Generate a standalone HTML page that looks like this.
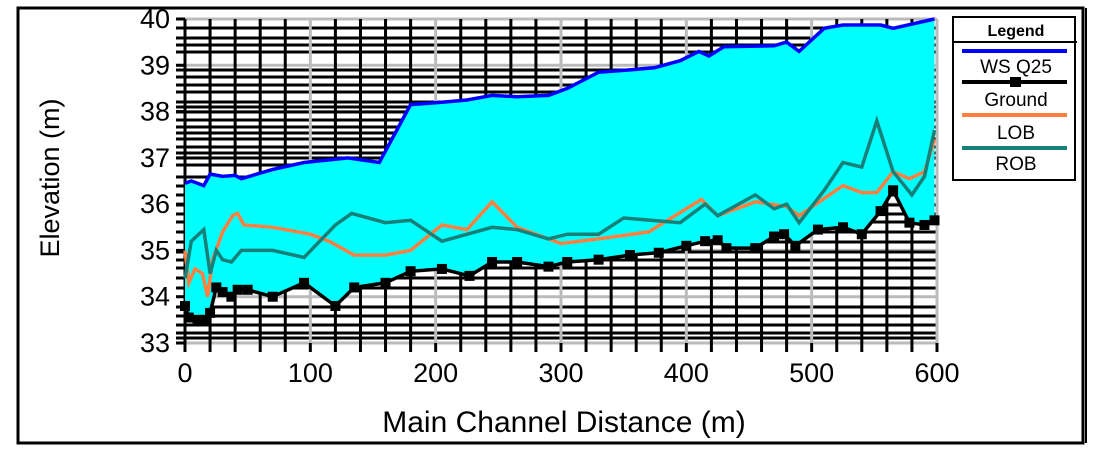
<!DOCTYPE html>
<html><head><meta charset="utf-8"><style>
body{margin:0;background:#fff;}
svg{display:block;font-family:"Liberation Sans",sans-serif;}
</style></head><body>
<svg id="s" width="1095" height="465" xmlns="http://www.w3.org/2000/svg">
<rect x="18" y="8" width="1065" height="435" fill="none" stroke="#000" stroke-width="3"/>
<line x1="1086" y1="8" x2="1086" y2="443" stroke="#000" stroke-width="2"/>
<g id="grid"></g>
<g id="data"></g>
<g font-size="27" fill="#000" text-anchor="end" id="yl"></g>
<g font-size="27" fill="#000" text-anchor="middle" id="xl"></g>
<text x="0" y="0" font-size="27" text-anchor="middle" transform="translate(59,178) rotate(-90)">Elevation (m)</text>
<text x="564" y="432" font-size="30" text-anchor="middle">Main Channel Distance (m)</text>
<rect x="953" y="17" width="122" height="163" fill="#fff" stroke="#000" stroke-width="2"/>
<line x1="953" y1="42" x2="1077" y2="42" stroke="#000" stroke-width="2"/>
<text x="1016" y="36" font-size="16" font-weight="bold" text-anchor="middle">Legend</text>
<line x1="962" y1="51" x2="1067" y2="51" stroke="#0000ff" stroke-width="4"/>
<text x="1016" y="73" font-size="19" text-anchor="middle">WS  Q25</text>
<line x1="962" y1="82" x2="1067" y2="82" stroke="#000" stroke-width="4"/>
<rect x="1010" y="77" width="11" height="10" fill="#000"/>
<text x="1016" y="106" font-size="19" text-anchor="middle">Ground</text>
<line x1="962" y1="115" x2="1067" y2="115" stroke="#ff7f40" stroke-width="4"/>
<text x="1016" y="139" font-size="19" text-anchor="middle">LOB</text>
<line x1="962" y1="148" x2="1067" y2="148" stroke="#178078" stroke-width="4"/>
<text x="1016" y="170" font-size="19" text-anchor="middle">ROB</text>
</svg>
<script>
var X=function(d){return 185+d*752/600;},Y=function(e){return 343-(e-33)*324/7;};
var g='';
for(var e=33;e<=40;e++){var y=Y(e);g+='<line x1="176" y1="'+y+'" x2="937" y2="'+y+'" stroke="#bbb" stroke-width="3"/><line x1="176" y1="'+y+'" x2="185" y2="'+y+'" stroke="#000" stroke-width="3"/>';}
var hl=[28,38,45,52,70,77,85,92,102,107,112,120,127,133,139,147,153,158,165,177,186,195,205,214,222,232,242,252,260,268,278,288,307,316,325,333,338];
hl.forEach(function(y){g+='<line x1="176" y1="'+y+'" x2="937" y2="'+y+'" stroke="#000" stroke-width="3"/>';});
for(var d=0;d<=600;d+=20){var x=X(d);var gray=d%100==0;
 g+='<line x1="'+x+'" y1="19" x2="'+x+'" y2="343" stroke="'+(gray?'#bbb':'#000')+'" stroke-width="3"/>';
 g+='<line x1="'+x+'" y1="343" x2="'+x+'" y2="352" stroke="#000" stroke-width="3"/>';}
g+='<line x1="185" y1="19" x2="185" y2="343" stroke="#000" stroke-width="3"/>';
g+='<line x1="937" y1="19" x2="937" y2="343" stroke="#bbb" stroke-width="3"/>';
document.getElementById('grid').innerHTML=g;
var ws=[[0,36.45],[5,36.5],[15,36.4],[20,36.65],[30,36.6],[40,36.62],[45,36.55],[70,36.75],[95,36.9],[130,37.0],[155,36.9],[180,38.15],[205,38.2],[225,38.25],[245,38.35],[265,38.32],[290,38.35],[305,38.5],[330,38.85],[355,38.9],[375,38.95],[395,39.1],[410,39.3],[418,39.2],[430,39.4],[470,39.42],[480,39.5],[490,39.3],[510,39.8],[525,39.87],[555,39.87],[565,39.8],[598,40.0]];
var gr=[[0,33.8],[3,33.55],[10,33.5],[15,33.5],[20,33.65],[25,34.2],[30,34.1],[37,34.0],[42,34.15],[50,34.15],[70,34.0],[95,34.3],[120,33.8],[135,34.2],[160,34.3],[180,34.55],[205,34.6],[227,34.45],[245,34.75],[265,34.75],[290,34.65],[305,34.75],[330,34.8],[355,34.9],[378,34.95],[400,35.1],[415,35.2],[425,35.22],[432,35.05],[455,35.05],[470,35.3],[478,35.35],[487,35.1],[505,35.45],[525,35.5],[540,35.35],[555,35.85],[565,36.3],[578,35.6],[590,35.55],[598,35.65]];
var lob=[[0,35.0],[3,34.3],[8,34.6],[14,34.5],[18,34.0],[22,34.8],[30,35.4],[38,35.75],[42,35.8],[47,35.55],[70,35.5],[100,35.35],[115,35.2],[135,34.9],[160,34.9],[180,35.0],[205,35.55],[225,35.45],[245,36.05],[265,35.5],[300,35.15],[330,35.25],[370,35.4],[400,35.9],[412,36.1],[425,35.75],[455,36.05],[480,35.95],[490,35.75],[525,36.4],[540,36.25],[552,36.25],[565,36.7],[578,36.55],[590,36.7],[598,37.4]];
var rob=[[0,34.4],[5,35.2],[15,35.45],[20,34.5],[25,35.0],[30,34.8],[37,34.75],[45,35.0],[70,35.0],[95,34.85],[120,35.55],[133,35.8],[160,35.6],[180,35.65],[205,35.2],[245,35.5],[265,35.45],[290,35.25],[305,35.35],[330,35.35],[350,35.7],[395,35.6],[415,36.0],[425,35.75],[455,36.2],[470,35.9],[480,36.0],[490,35.6],[510,36.3],[525,36.9],[540,36.8],[552,37.8],[565,36.7],[580,36.2],[590,36.6],[598,37.6]];
function pts(a){return a.map(function(p){return X(p[0]).toFixed(1)+','+Y(p[1]).toFixed(1);}).join(' ');}
var d='';
d+='<polygon points="'+pts(ws)+' '+pts(gr.slice().reverse())+'" fill="#00ffff"/>';
d+='<polyline points="'+pts(lob)+'" fill="none" stroke="#ff7f40" stroke-width="3.5"/>';
d+='<polyline points="'+pts(rob)+'" fill="none" stroke="#178078" stroke-width="3.5"/>';
d+='<polyline points="'+pts(ws)+'" fill="none" stroke="#0000ff" stroke-width="3.5"/>';
d+='<polyline points="'+pts(gr)+'" fill="none" stroke="#000" stroke-width="3.5"/>';
gr.forEach(function(p){d+='<rect x="'+(X(p[0])-5)+'" y="'+(Y(p[1])-5)+'" width="10" height="10" fill="#000"/>';});
document.getElementById('data').innerHTML=d;
var yl='';for(var e=33;e<=40;e++)yl+='<text x="170" y="'+(Y(e)+9)+'">'+e+'</text>';
document.getElementById('yl').innerHTML=yl;
var xl='';for(var v=0;v<=600;v+=100)xl+='<text x="'+X(v)+'" y="382">'+v+'</text>';
document.getElementById('xl').innerHTML=xl;
</script>
</body></html>
